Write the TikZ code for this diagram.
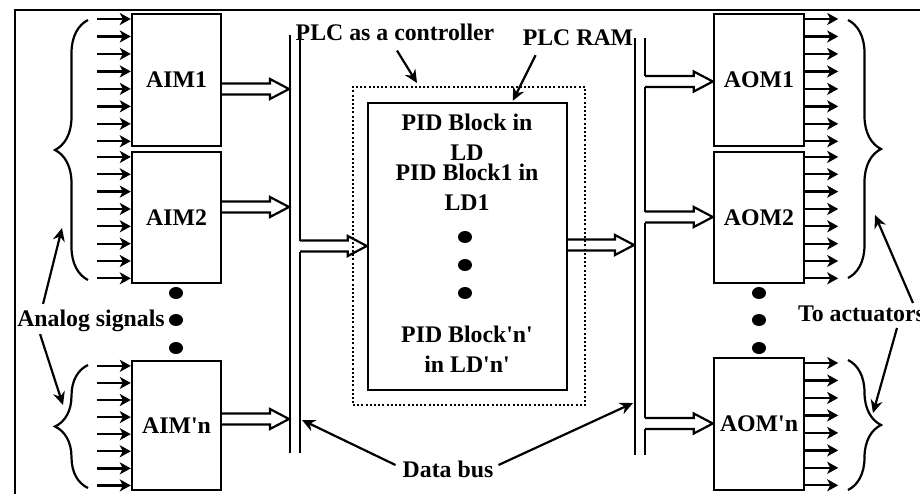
\documentclass[tikz,border=0pt]{standalone}
\usepackage{fontspec}
\setmainfont{Liberation Serif}
\usetikzlibrary{calc,arrows.meta,decorations.pathreplacing}

\newcommand{\lbfont}{\fontsize{23.8}{30}\selectfont\bfseries}
\newcommand{\apos}{\textquotesingle}
% flecha doble (hueca) de #1 a #2
\newcommand{\fatarrow}[2]{%
  \draw[busline] let \p1=(#1), \p2=(#2) in
    (\x1,{\y1+5.5pt}) -- ({\x2-19pt},{\y1+5.5pt}) -- ({\x2-19pt},{\y1+10pt})
    -- (\x2,\y1) -- ({\x2-19pt},{\y1-10pt}) -- ({\x2-19pt},{\y1-5.5pt})
    -- (\x1,{\y1-5.5pt});}

\tikzset{
  modbox/.style={draw, line width=2.4pt, minimum width=89pt, inner sep=0pt, font=\lbfont},
  lbl/.style={font=\lbfont, inner sep=1pt},
  sig/.style={line width=2.3pt, -{Stealth[length=11pt,width=12pt,inset=3pt]}},
  ptr/.style={line width=2.2pt, -{Stealth[length=13pt,width=12pt]}},
  busline/.style={line width=2.2pt, line join=miter},
  brc/.style={line width=2.2pt, decorate, decoration={brace, amplitude=33pt}}
}

\begin{document}
\begin{tikzpicture}[x=1pt,y=-1pt]
\clip (0,0) rectangle (920,493);
\useasboundingbox (0,0) rectangle (920,493);

% Marco
\draw[line width=2pt] (15,520) -- (15,10) -- (940,10);

% Modulos de entrada
\node[modbox, minimum height=132pt] (AIM1) at (176.5,80) {AIM1};
\node[modbox, minimum height=131pt] (AIM2) at (176.5,217.5) {AIM2};
\node[modbox, minimum height=129pt] (AIMn) at (176.5,425.5) {AIM\apos n};

% Modulos de salida
\node[modbox, minimum width=90pt, minimum height=132pt] (AOM1) at (759,80) {AOM1};
\node[modbox, minimum width=90pt, minimum height=131pt] (AOM2) at (759,217.5) {AOM2};
\node[modbox, minimum width=90pt, minimum height=132pt] (AOMn) at (759,424) {AOM\apos n};

% Senales analogicas y actuadores
\foreach \m in {AIM1,AIM2,AIMn}
  \foreach \i in {0,...,7}
    \draw[sig] ($(\m.north west)!{0.046+\i*0.13}!(\m.south west)+(-34,0)$) -- ++(34,0);
\foreach \m in {AOM1,AOM2,AOMn}
  \foreach \i in {0,...,7}
    \draw[sig] ($(\m.north east)!{0.046+\i*0.13}!(\m.south east)$) -- ++(33,0);

% Llaves
\draw[brc] (88,280) -- (88,20);
\draw[brc] (88,488) -- (88,365);
\draw[brc] (848,20) -- (848,278);
\draw[brc] (848,360) -- (848,490);

% Puntos
\foreach \yy in {293,320,348} {
  \fill (176,\yy) ellipse (7pt and 6pt);
  \fill (759,\yy) ellipse (7pt and 6pt);
}

% PLC y RAM
\node[draw, line width=2pt, dash pattern=on 2pt off 2.2pt, minimum width=232pt, minimum height=318pt] (plc) at (469,246) {};
\node[draw, line width=2.4pt, minimum width=199pt, minimum height=287pt] (ram) at (467.5,246.5) {};
\node[lbl, align=center] (pid0) at (467,137) {PID Block in\\LD};
\node[lbl, align=center] (pid1) at (467,187) {PID Block1 in\\LD1};
\node[lbl, align=center] (pidn) at (467,349) {PID Block\apos n\apos\\in LD\apos n\apos};
\foreach \yy in {237,265,293}
  \fill (465,\yy) ellipse (7pt and 6pt);

% Bus de datos izquierdo
\coordinate (t1) at (289,89);
\coordinate (t2) at (289,207);
\coordinate (t3) at (289,419);
\coordinate (r1) at (300,246);
\draw[busline] (290,35) -- (290,453);
\draw[busline] (300,35) -- ([yshift=5.5pt]r1) ([yshift=-5.5pt]r1) -- (300,453);
\fatarrow{AIM1.east |- t1}{t1}
\fatarrow{AIM2.east |- t2}{t2}
\fatarrow{AIMn.east |- t3}{t3}
\fatarrow{r1}{ram.west |- r1}

% Bus de datos derecho
\coordinate (r2) at (634,245);
\coordinate (o1) at (645,81.5);
\coordinate (o2) at (645,217);
\coordinate (o3) at (645,423.5);
\draw[busline] (635,38) -- (635,455);
\draw[busline] (645,38) -- ([yshift=5.5pt]o1) ([yshift=-5.5pt]o1) -- ([yshift=5.5pt]o2)
  ([yshift=-5.5pt]o2) -- ([yshift=5.5pt]o3) ([yshift=-5.5pt]o3) -- (645,455);
\fatarrow{ram.east |- r2}{r2}
\fatarrow{o1}{AOM1.west |- o1}
\fatarrow{o2}{AOM2.west |- o2}
\fatarrow{o3}{AOMn.west |- o3}

% Etiquetas
\node[lbl] (plcctl) at (395,32) {PLC as a controller};
\node[lbl] (ramlbl) at (578,38) {PLC RAM};
\node[lbl] (analog) at (91,321) {Analog signals};
\node[lbl, anchor=west] (actu) at (797,314) {To actuators};
\node[lbl] (databus) at (448,469) {Data bus};

\coordinate (aTop) at (62,228);
\coordinate (aBot) at (63,405);
\coordinate (oTop) at (875,215);
\coordinate (oBot) at (873,413);
\coordinate (busL) at (302,420);
\coordinate (busR) at (633,403);

\draw[ptr] ($(plcctl.south)+(2,9)$) -- ($(plc.north west)+(65,-3)$);
\draw[ptr] ($(ramlbl.south west)+(14,8)$) -- ($(ram.north west)+(146,-1)$);
\draw[ptr] ($(analog.north west)+(27,-5)$) -- (aTop);
\draw[ptr] ($(analog.south west)+(24,1)$) -- (aBot);
\draw[ptr] ($(actu.west)+(116,-11)$) -- (oTop);
\draw[ptr] ($(actu.west)+(100,14)$) -- (oBot);
\draw[ptr] ($(databus.west)+(-6,-4)$) -- (busL);
\draw[ptr] ($(databus.east)+(4,-4)$) -- (busR);
\end{tikzpicture}
\end{document}
